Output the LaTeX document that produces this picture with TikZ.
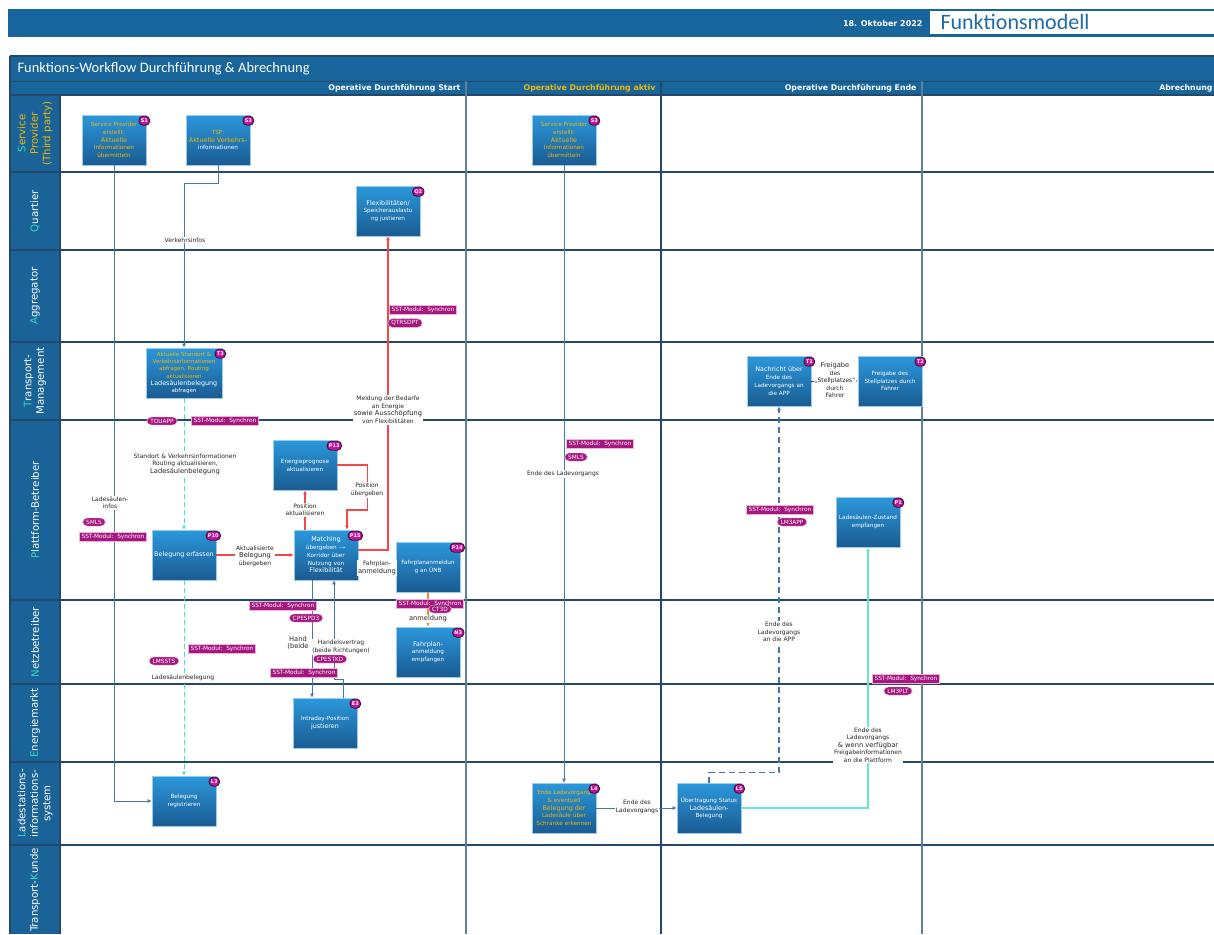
\documentclass[tikz,border=0pt]{standalone}
\usepackage{fontspec}
\setmainfont{DejaVu Sans}
\newfontfamily\headfont{Carlito}
\usetikzlibrary{arrows.meta,calc}

\definecolor{hdrblue}{HTML}{18659C}
\definecolor{lanefill}{HTML}{1A6399}
\definecolor{darkline}{HTML}{24486A}
\definecolor{colline}{HTML}{5F7E98}
\definecolor{boxtop}{HTML}{2B98DC}
\definecolor{boxbot}{HTML}{1A5B92}
\definecolor{boxedge}{HTML}{9CCBEA}
\definecolor{badgefill}{HTML}{C0139A}
\definecolor{badgeedge}{HTML}{3A1232}
\definecolor{sstfill}{HTML}{A5167F}
\definecolor{sstedge}{HTML}{E6B7D8}
\definecolor{txtorange}{HTML}{F2B705}
\definecolor{laneteal}{HTML}{36D6B4}
\definecolor{connblue}{HTML}{4877A4}
\definecolor{flowteal}{HTML}{44E0C4}
\definecolor{flowred}{HTML}{F44848}
\definecolor{floworange}{HTML}{E8883A}
\definecolor{titleblue}{HTML}{1E6BA8}

% emphasised words inside boxes and inside connector labels
\newcommand\boxem[1]{{\fontsize{6.4}{8}\selectfont #1}}
\newcommand\lblem[1]{{\fontsize{6.7}{8}\selectfont #1}}

\begin{document}
\begin{tikzpicture}[x=1pt,y=-1pt,
  fbox/.style={draw=boxedge,line width=0.6,top color=boxtop,bottom color=boxbot,
    minimum width=64,minimum height=50,text width=64,align=center,inner sep=0,
    text=white,font=\fontsize{5.7}{7.8}\selectfont},
  badge/.style={fill=badgefill,draw=badgeedge,line width=0.9,rounded corners=4,
    inner xsep=1.8,inner ysep=1,minimum height=9,text=white,
    font=\fontsize{5}{5}\selectfont\bfseries},
  sst/.style={fill=sstfill,draw=sstedge,line width=0.4,inner xsep=2,inner ysep=1.6,
    text=white,font=\fontsize{5.8}{6}\selectfont},
  pill/.style={fill=sstfill,draw=sstedge,line width=0.4,rounded corners=4.5,
    inner xsep=3.5,inner ysep=1.8,text=white,font=\fontsize{5.8}{6}\selectfont},
  lbl/.style={fill=white,inner sep=1,align=center,text=black!85,
    font=\fontsize{6}{7.5}\selectfont},
  lanelbl/.style={rotate=90,align=center,text=white,font=\fontsize{10.2}{12.5}\selectfont},
  phase/.style={anchor=east,text=white,font=\fontsize{7.8}{8}\selectfont\bfseries},
  tip/.style={-{Latex[length=4,width=4]}},
  cb/.style={draw=connblue,line width=1,tip},
  cteal/.style={draw=flowteal,line width=1,dash pattern=on 5pt off 3pt,tip},
  cred/.style={draw=flowred,line width=1.1,tip},
  corange/.style={draw=floworange,line width=1.1,tip},
  cdash/.style={draw=connblue,line width=1.2,dash pattern=on 6pt off 4pt,tip},
  cmint/.style={draw=flowteal!80!white,line width=1.1,tip},
]
\useasboundingbox (0,0) rectangle (1214,934);
\fill[white] (0,0) rectangle (1214,934);

% ---------- page header ----------
\fill[hdrblue] (8,9) rectangle (1214,37);
\fill[white] (930,11) rectangle (1214,34);
\node[anchor=east,text=white,font=\fontsize{8}{8}\selectfont\bfseries] (date) at (926,24) {18. Oktober 2022};
\node[anchor=west,text=titleblue,font=\headfont\fontsize{22}{23}\selectfont] (title) at (937,22) {Funktionsmodell};

% ---------- frame, title bar and phase row ----------
\fill[hdrblue] (10,56) rectangle (1214,95);
\draw[darkline,line width=1.2] (10,56) -- (1214,56);
\draw[darkline,line width=1] (10,81) -- (1214,81);
\node[anchor=west,text=white,font=\headfont\fontsize{14.5}{15}\selectfont] (wf) at (14,68.5)
  {Funktions-Workflow Durchführung \& Abrechnung};
\node[phase] (ph1) at (464,88) {Operative Durchführung Start};
\node[phase,text=txtorange] (ph2) at (659,88) {Operative Durchführung aktiv};
\node[phase] (ph3) at (920,88) {Operative Durchführung Ende};
\node[phase] (ph4) at (1216,88) {Abrechnung};

% lane label column
\fill[lanefill] (10,95) rectangle (60,934);

% lane boundaries
\foreach \yy in {95,172,250,342,420,600,684,762,845}
  \draw[darkline,line width=1.6] (10,\yy) -- (1214,\yy);
\draw[darkline,line width=1.2] (10,56) -- (10,934);
\draw[darkline,line width=1.2] (60,95) -- (60,934);

% phase columns
\draw[colline,line width=1.2] (466,81) -- (466,934);
\draw[darkline,line width=1.2] (661,81) -- (661,934);
\draw[colline,line width=1.2] (922,81) -- (922,934);

% lane titles
\node[lanelbl,text=txtorange] (ln1) at (35,133.5)
  {{\color{laneteal}S}ervice\\Provider\\(Third party)};
\node[lanelbl] (ln2) at (35,211) {{\color{laneteal}Q}uartier};
\node[lanelbl] (ln3) at (35,296) {{\color{laneteal}A}ggregator};
\node[lanelbl] (ln4) at (35,381) {{\color{laneteal}T}ransport-\\Management};
\node[lanelbl] (ln5) at (35,510) {{\color{laneteal}P}lattform-Betreiber};
\node[lanelbl] (ln6) at (35,642) {{\color{laneteal}N}etzbetreiber};
\node[lanelbl] (ln7) at (35,723) {{\color{laneteal}E}nergiemarkt};
\node[lanelbl] (ln8) at (35,803.5) {{\color{laneteal}L}adestations-\\informations-\\system};
\node[lanelbl] (ln9) at (35,890) {Transport-{\color{laneteal}K}unde};

% ---------- function boxes ----------
\node[fbox,text=txtorange] (s1) at (114,140)
  {Service Provider\\erstellt:\\\boxem{Aktuelle}\\Informationen\\übermitteln};
\node[fbox,text=txtorange] (s3a) at (218,140)
  {TSP:\\\boxem{Aktuelle Verkehrs-}\\{\color{white}informationen}};
\node[fbox,text=txtorange] (s3b) at (564,140)
  {Service Provider\\erstellt:\\\boxem{Aktuelle}\\Informationen\\übermitteln};
\node[fbox] (q2) at (388,211)
  {\boxem{Flexibilitäten/}\\Speicherauslastu\\ng justieren};
\node[fbox,minimum width=76,text width=76,text=txtorange,font=\fontsize{5.5}{7.3}\selectfont] (t3) at (184,373)
  {Aktuelle Standort \&\\Verkehrsinformationen\\abfragen, Routing\\aktualisieren\\{\color{white}\boxem{Ladesäulenbelegung}}\\{\color{white}abfragen}};
\node[fbox] (p13) at (305,465) {Energieprognose\\aktualisieren};
\node[fbox] (p10) at (184,555) {\boxem{Belegung erfassen}};
\node[fbox] (p15) at (326,555)
  {\boxem{Matching}\\übergeben $\rightarrow$\\Korridor über\\Nutzung von\\\boxem{Flexibilität}};
\node[fbox] (p14) at (428,567) {Fahrplananmeldun\\g an ÜNB};
\node[fbox] (n3) at (428,652)
  {\boxem{Fahrplan-}\\anmeldung\\empfangen};
\node[fbox] (e3) at (325,723) {Intraday-Position\\\boxem{justieren}};
\node[fbox] (l3) at (184,801) {Belegung\\registrieren};
\node[fbox,text=txtorange] (l4) at (564,808)
  {Ende Ladevorgang\\\& eventuell\\\boxem{Belegung der}\\Ladesäule über\\Schranke erkennen};
\node[fbox] (l5) at (709,808)
  {Übertragung Status\\\boxem{Ladesäulen-}\\Belegung};
\node[fbox] (t1) at (779,381)
  {\boxem{Nachricht über}\\Ende des\\Ladevorgangs an\\die APP};
\node[fbox] (t2) at (890,381) {Freigabe des\\Stellplatzes durch\\Fahrer};
\node[fbox] (p1) at (868,522) {Ladesäulen-Zustand\\empfangen};

% ---------- connectors ----------
\draw[cb] (s1.south) |- (l3.west);
\draw[cb] (s3a.south) -- ++(0,18) -| (t3.north);
\draw[cb] (s3b.south) -- (l4.north);
\draw[cteal] (t3.south) -- (p10.north);
\draw[cteal] (p10.south) -- (l3.north);
\draw[cred] (p10.east) -- (p15.west);
\draw[cred] (p15.north -| p13.south) -- (p13.south);
\draw[cred] (p13.east) -- ++(30,0) -- ++(0,45) -| ([xshift=21]p15.north);
\draw[cred] ([yshift=5]p15.east) -| (q2.south);
\draw[corange] (p14.west -| p15.east) -- (p14.west);
\draw[corange] (p14.south) -- (n3.north);
\draw[cb] ([xshift=-14]p15.south) -- ([xshift=-14]p15.south |- e3.north);
\draw[cb] ([xshift=18]e3.north) -- ++(0,-18) -| ([xshift=8]p15.south);
\draw[cb] (l4.east) -- (l5.west);
\draw[cdash] (l5.north) -- ++(0,-10) -| (t1.south);
\draw[cmint] (l5.east) -| (p1.south);
\draw[draw=darkline,line width=0.8,tip] (t1.east) -- (t2.west);

% ---------- connector labels ----------
\node[lbl] (lb1) at (185,240) {Verkehrsinfos};
\node[lbl] (lb2) at (185,464)
  {Standort \& Verkehrsinformationen\\Routing aktualisieren,\\\lblem{Ladesäulenbelegung}};
\node[lbl] (lb3) at (183,678) {Ladesäulenbelegung};
\node[lbl] (lb4) at (110,503) {Ladesäulen-\\infos};
\node[lbl] (lb5) at (255,556) {Aktualisierte\\\lblem{Belegung}\\übergeben};
\node[lbl] (lb6) at (305,510) {Position\\aktualisieren};
\node[lbl] (lb7) at (367,490) {Position\\übergeben};
\node[lbl] (lb8) at (388,410)
  {Meldung der Bedarfe\\an Energie\\\lblem{sowie Ausschöpfung}\\von Flexibilitäten};
\node[lbl] (lb9) at (377,568) {Fahrplan-\\\lblem{anmeldung}};
\node[lbl] (lb10) at (298,643) {\lblem{Hand}\\\lblem{(beide}};
\node[lbl] (lb11) at (341,647) {Handelsvertrag\\(beide Richtungen)};
\node[lbl] (lb12) at (563,474) {Ende des Ladevorgangs};
\node[lbl] (lb13) at (637,807) {Ende des\\Ladevorgangs};
\node[lbl] (lb14) at (779,632) {Ende des\\Ladevorgangs\\an die APP};
\node[lbl] (lb15) at (868,745)
  {Ende des\\Ladevorgangs\\\lblem{\& wenn verfügbar}\\Freigabeinformationen\\an die Plattform};
\node[lbl] (lb16) at (835,380)
  {\lblem{Freigabe}\\des\\„Stellplatzes“\\durch\\Fahrer};
\node[lbl] (lb17) at (428,619) {\lblem{anmeldung}};

% ---------- interface tags ----------
\node[sst] (sst1) at (423,310) {SST-Modul:\ \ Synchron};
\node[pill] (if1) at (405,323) {QTRSDPT};
\node[sst] (sst2) at (225,421) {SST-Modul:\ \ Synchron};
\node[pill] (if2) at (162,421) {TOUAPP};
\node[pill] (if3) at (94,522) {SMLS};
\node[sst] (sst3) at (113,537) {SST-Modul:\ \ Synchron};
\node[sst] (sst4) at (600,444) {SST-Modul:\ \ Synchron};
\node[pill] (if4) at (576,457) {SMLS};
\node[sst] (sst5) at (283,606) {SST-Modul:\ \ Synchron};
\node[pill] (if5) at (306,618) {CPESPD3};
\node[sst] (sst6) at (430,604) {SST-Modul:\ \ Synchron};
\node[pill] (if6) at (440,609) {CT3D};
\node[sst] (sst7) at (222,649) {SST-Modul:\ \ Synchron};
\node[pill] (if7) at (164,661) {LMSSTS};
\node[pill] (if8) at (330,659) {CPESTKD};
\node[sst] (sst8) at (304,673) {SST-Modul:\ \ Synchron};
\node[sst] (sst9) at (780,510) {SST-Modul:\ \ Synchron};
\node[pill] (if9) at (792,522) {LM3APP};
\node[sst] (sst10) at (906,679) {SST-Modul:\ \ Synchron};
\node[pill] (if10) at (898,691) {LM3PLT};

% ---------- box identifiers ----------
\node[badge] (b-s1) at ($(s1.north east)+(-2,6)$) {S1};
\node[badge] (b-s3a) at ($(s3a.north east)+(-2,6)$) {S3};
\node[badge] (b-s3b) at ($(s3b.north east)+(-2,6)$) {S3};
\node[badge] (b-q2) at ($(q2.north east)+(-2,6)$) {Q2};
\node[badge] (b-t3) at ($(t3.north east)+(-2,6)$) {T3};
\node[badge] (b-p13) at ($(p13.north east)+(-3,6)$) {P13};
\node[badge] (b-p10) at ($(p10.north east)+(-3,6)$) {P10};
\node[badge] (b-p15) at ($(p15.north east)+(-3,6)$) {P15};
\node[badge] (b-p14) at ($(p14.north east)+(-3,6)$) {P14};
\node[badge] (b-n3) at ($(n3.north east)+(-2,6)$) {N3};
\node[badge] (b-e3) at ($(e3.north east)+(-2,6)$) {E3};
\node[badge] (b-l3) at ($(l3.north east)+(-2,6)$) {L3};
\node[badge] (b-l4) at ($(l4.north east)+(-2,6)$) {L4};
\node[badge] (b-l5) at ($(l5.north east)+(-2,6)$) {L5};
\node[badge] (b-t1) at ($(t1.north east)+(-2,6)$) {T1};
\node[badge] (b-t2) at ($(t2.north east)+(-2,6)$) {T2};
\node[badge] (b-p1) at ($(p1.north east)+(-2,6)$) {P1};
\end{tikzpicture}
\end{document}
